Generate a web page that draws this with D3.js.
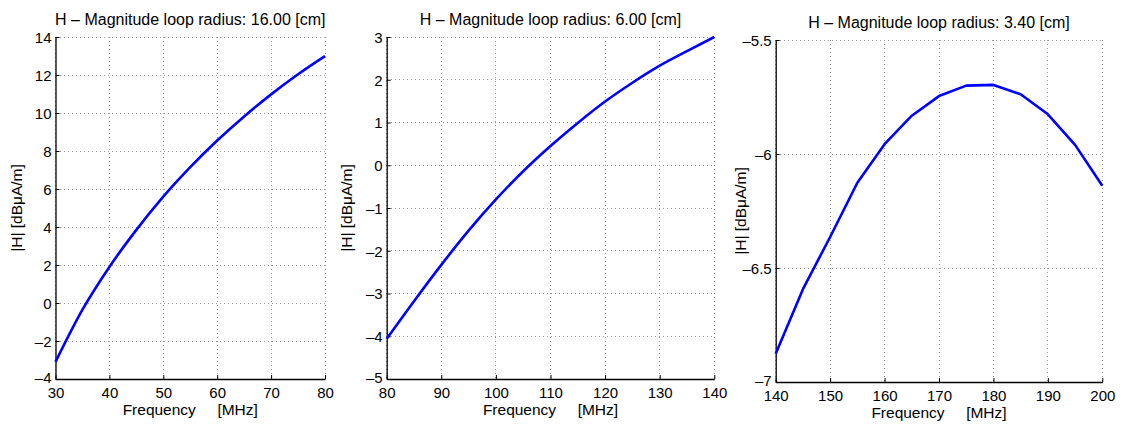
<!DOCTYPE html>
<html>
<head>
<meta charset="utf-8">
<script src="https://cdn.jsdelivr.net/npm/d3@7"></script>
<style>
  html, body { margin: 0; padding: 0; background: #fff; }
  svg { display: block; font-family: "Liberation Sans", Arial, Helvetica, sans-serif; }
</style>
</head>
<body>
<svg id="chart" width="1128" height="425"></svg>
<script>
// ---- Data ----
const titles = [
  "H \u2013 Magnitude loop radius: 16.00 [cm]",
  "H \u2013 Magnitude loop radius: 6.00 [cm]",
  "H \u2013 Magnitude loop radius: 3.40 [cm]"
];
const xLabel = "Frequency     [MHz]";
const yLabel = "|H| [dB\u03bcA/m]";

const freq1 = [30, 35, 40, 45, 50, 55, 60, 65, 70, 75, 80];
const h1    = [-3.1, -0.35, 1.9, 3.85, 5.6, 7.15, 8.55, 9.82, 10.98, 12.04, 13.0];

const freq2 = [80, 85, 90, 95, 100, 105, 110, 115, 120, 125, 130, 135, 140];
const h2    = [-4.06, -3.18, -2.33, -1.53, -0.80, -0.14, 0.45, 0.99, 1.49, 1.93, 2.33, 2.67, 3.0];

const freq3 = [140, 145, 150, 155, 160, 165, 170, 175, 180, 185, 190, 195, 200];
const h3    = [-6.876, -6.593, -6.364, -6.126, -5.957, -5.832, -5.746, -5.700, -5.697, -5.738, -5.826, -5.960, -6.139];

const xTicks1 = [30, 40, 50, 60, 70, 80];
const yTicks1 = [-4, -2, 0, 2, 4, 6, 8, 10, 12, 14];
const xTicks2 = [80, 90, 100, 110, 120, 130, 140];
const yTicks2 = [-5, -4, -3, -2, -1, 0, 1, 2, 3];
const xTicks3 = [140, 150, 160, 170, 180, 190, 200];
const yTicks3 = [-7, -6.5, -6, -5.5];

// ---- Layout ----
const panels = [
  { x: freq1, y: h1, xd: [30, 80], yd: [-4, 14], xt: xTicks1, yt: yTicks1, smooth: true,
    left: 55.5, right: 325, top: 37, bottom: 379, titleY: 25, ylabX: 17, title: titles[0] },
  { x: freq2, y: h2, xd: [80, 140], yd: [-5, 3], xt: xTicks2, yt: yTicks2, smooth: true,
    left: 386.7, right: 714.3, top: 37, bottom: 379, titleY: 25, ylabX: 347, title: titles[1] },
  { x: freq3, y: h3, xd: [140, 200], yd: [-7, -5.5], xt: xTicks3, yt: yTicks3, smooth: false,
    left: 775.7, right: 1102.3, top: 40, bottom: 382, titleY: 28, ylabX: 741, title: titles[2] }
];

const svg = d3.select("#chart");
const fmt = v => (v < 0 ? "\u2013" + String(Math.abs(v)) : String(v));

panels.forEach(p => {
  const xs = d3.scaleLinear().domain(p.xd).range([p.left, p.right]);
  const ys = d3.scaleLinear().domain(p.yd).range([p.bottom, p.top]);
  const g = svg.append("g");

  // grid
  g.selectAll(".gx").data(p.xt).enter().append("line")
    .attr("x1", d => xs(d)).attr("x2", d => xs(d))
    .attr("y1", p.top).attr("y2", p.bottom)
    .attr("stroke", "#9a9a9a").attr("stroke-width", 1)
    .attr("stroke-dasharray", "1,3").attr("shape-rendering", "crispEdges");
  g.selectAll(".gy").data(p.yt).enter().append("line")
    .attr("x1", p.left).attr("x2", p.right)
    .attr("y1", d => ys(d)).attr("y2", d => ys(d))
    .attr("stroke", "#9a9a9a").attr("stroke-width", 1)
    .attr("stroke-dasharray", "1,3").attr("shape-rendering", "crispEdges");

  // axes
  const xAxis = d3.axisBottom(xs).tickValues(p.xt).tickFormat(fmt).tickSizeInner(-4).tickSizeOuter(0).tickPadding(8);
  const yAxis = d3.axisLeft(ys).tickValues(p.yt).tickFormat(fmt).tickSizeInner(-4).tickSizeOuter(0).tickPadding(8);

  const gx = g.append("g").attr("transform", `translate(0,${p.bottom})`).call(xAxis);
  const gy = g.append("g").attr("transform", `translate(${p.left},0)`).call(yAxis);
  [gx, gy].forEach(a => {
    a.selectAll("path").attr("stroke", "#000").attr("stroke-width", 1.3);
    a.selectAll("line").attr("stroke", "#000").attr("stroke-width", 1);
    a.selectAll("text").attr("fill", "#000").attr("font-size", 15)
      .attr("font-family", "'Liberation Sans', Arial, sans-serif");
  });
  gy.selectAll("text").attr("dy", d => d === p.yd[0] ? "0.2em" : "0.36em").attr("x", -4);
  gx.selectAll("text").attr("y", 6).attr("dy", "0.85em");

  // line
  const line = d3.line().x((d, i) => xs(p.x[i])).y(d => ys(d))
    .curve(p.smooth ? d3.curveMonotoneX : d3.curveLinear);
  g.append("path").datum(p.y).attr("d", line)
    .attr("fill", "none").attr("stroke", "#0000ff").attr("stroke-width", 2.6)
    .attr("stroke-linejoin", "round");

  // title
  g.append("text").attr("x", (p.left + p.right) / 2).attr("y", p.titleY)
    .attr("text-anchor", "middle").attr("font-size", 16).attr("fill", "#000")
    .text(p.title);

  // x label
  g.append("text").attr("x", (p.left + p.right) / 2).attr("y", p.bottom + 36)
    .attr("text-anchor", "middle").attr("font-size", 15.5).attr("fill", "#000")
    .attr("xml:space", "preserve").style("white-space", "pre")
    .text(xLabel);

  // y label
  g.append("text")
    .attr("transform", `translate(${p.ylabX},${(p.top + p.bottom) / 2}) rotate(-90)`)
    .attr("text-anchor", "middle").attr("dy", "0.35em").attr("font-size", 15.5).attr("fill", "#000")
    .text(yLabel);
});
</script>
</body>
</html>
